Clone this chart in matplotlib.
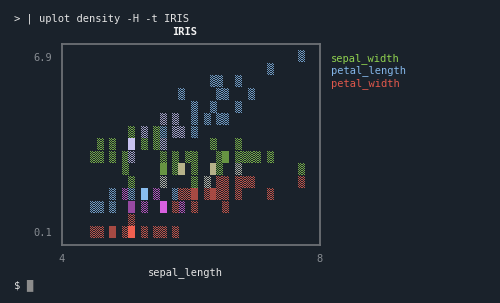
import matplotlib.pyplot as plt
import numpy as np
from matplotlib.colors import to_rgb

plt.rcParams['font.family'] = ['DejaVu Sans Mono']

BG = "#1a222b"
W, H = 500, 303

# canvas: sepal_length 4..8 in 40 columns, values 0.1..6.9 in 15 rows
x_min, x_max, n_cols = 4.0, 8.0, 40
y_top, y_bot, n_rows = 6.9, 0.1, 15
x_tick_labels = ["4", "8"]
y_tick_vals = [6.9, 0.1]
y_tick_labels = ["6.9", "0.1"]

series_names = ["sepal_width", "petal_length", "petal_width"]
series_colors = ["#8fd14f", "#84b6e8", "#e0584c"]

# cells: sepal_length bin, value, density level (1 light, 2 dense, 3 full)
sw_x = [5.5, 5.7,
        5.0, 5.2, 5.4, 5.7, 5.8,
        4.5, 4.7, 5.0, 5.2, 5.4, 5.5, 6.3, 6.7,
        4.4, 4.5, 4.7, 4.9, 5.0, 5.5, 5.7, 5.9, 6.0, 6.4, 6.5, 6.7, 6.8, 6.9, 7.0, 7.2,
        4.9, 5.5, 5.7, 5.8, 6.0, 6.3, 6.4, 6.7, 7.7,
        5.0, 5.5, 6.0, 6.2]
sw_y = [4.47, 4.47,
        3.99, 3.99, 3.99, 3.99, 3.99,
        3.5, 3.5, 3.5, 3.5, 3.5, 3.5, 3.5, 3.5,
        3.01, 3.01, 3.01, 3.01, 3.01, 3.01, 3.01, 3.01, 3.01, 3.01, 3.01, 3.01, 3.01, 3.01, 3.01, 3.01,
        2.53, 2.53, 2.53, 2.53, 2.53, 2.53, 2.53, 2.53, 2.53,
        2.04, 2.04, 2.04, 2.04]
sw_lvl = [1, 1,
          1, 1, 1, 1, 1,
          1, 1, 3, 1, 1, 1, 1, 1,
          1, 1, 1, 1, 1, 1, 1, 1, 1, 1, 2, 1, 1, 1, 1, 1,
          1, 2, 1, 1, 1, 1, 1, 1, 1,
          1, 1, 1, 1]

pl_x = [7.7, 7.2, 6.3, 6.4, 6.7, 5.8, 6.4, 6.5, 6.9, 6.0, 6.3, 6.7,
        5.5, 5.7, 6.0, 6.2, 6.4, 6.5,
        5.2, 5.5, 5.7, 5.8, 6.0,
        5.0, 5.5, 5.0, 6.7, 5.5, 6.2,
        4.7, 4.9, 5.0, 5.2, 5.4, 5.7,
        4.4, 4.5, 4.7, 5.0, 5.2, 5.5, 5.8]
pl_y = [6.9, 6.41, 5.93, 5.93, 5.93, 5.44, 5.44, 5.44, 5.44, 4.96, 4.96, 4.96,
        4.47, 4.47, 4.47, 4.47, 4.47, 4.47,
        3.99, 3.99, 3.99, 3.99, 3.99,
        3.5, 3.5, 3.01, 2.53, 2.04, 2.04,
        1.56, 1.56, 1.56, 1.56, 1.56, 1.56,
        1.07, 1.07, 1.07, 1.07, 1.07, 1.07, 1.07]
pl_lvl = [1] * 32 + [3] + [1] * 9

pw_x = [5.8, 6.3, 6.7,
        5.5, 6.2, 6.4, 6.5, 6.7, 6.8, 6.9, 7.7,
        4.9, 5.4, 5.8, 5.9, 6.0, 6.2, 6.3, 6.4, 6.5, 6.7, 7.2,
        5.0, 5.2, 5.5, 5.7, 5.8, 6.0, 6.5,
        5.0,
        4.4, 4.5, 4.7, 4.9, 5.0, 5.2, 5.4, 5.5, 5.7]
pw_y = [2.53, 2.53, 2.53,
        2.04, 2.04, 2.04, 2.04, 2.04, 2.04, 2.04, 2.04,
        1.56, 1.56, 1.56, 1.56, 1.56, 1.56, 1.56, 1.56, 1.56, 1.56, 1.56,
        1.07, 1.07, 1.07, 1.07, 1.07, 1.07, 1.07,
        0.59,
        0.1, 0.1, 0.1, 0.1, 0.1, 0.1, 0.1, 0.1, 0.1]
pw_lvl = [3, 3, 1,
          1, 1, 1, 1, 1, 1, 1, 1,
          1, 1, 1, 1, 2, 1, 2, 1, 1, 1, 1,
          2, 1, 3, 1, 1, 1, 1,
          1,
          1, 1, 2, 1, 3, 1, 1, 1, 1]

# colours of overlapping series (bit 1 = sepal_width, 2 = petal_length, 4 = petal_width)
mix_colors = {1: "#8fd14f", 2: "#88bcee", 4: "#f06050", 3: "#c8c2f0",
              5: "#b6b28a", 6: "#d860e0", 7: "#d8d8c8"}
level_factor = {1: 0.76, 2: 0.66, 3: 1.0}

bw = (x_max - x_min) / n_cols
dy = (y_top - y_bot) / (n_rows - 1)
gh = 0.46 * dy  # glyph half height, a bit less than a row

cells = {}
for bit, xs, ys, lv in [(1, sw_x, sw_y, sw_lvl), (2, pl_x, pl_y, pl_lvl), (4, pw_x, pw_y, pw_lvl)]:
    for x, y, l in zip(xs, ys, lv):
        key = (round(x, 2), round(y, 2))
        m, ol = cells.get(key, (0, 0))
        cells[key] = (m | bit, max(ol, l))

fig = plt.figure(figsize=(W / 100, H / 100), dpi=100)
fig.patch.set_facecolor(BG)
ax = fig.add_axes([62 / W, 1 - 245 / H, 258 / W, 201 / H])
ax.set_facecolor(BG)

bg = np.array(to_rgb(BG))
checker = (np.indices((12, 6)).sum(axis=0) % 2 == 0)
for (x, y), (m, l) in cells.items():
    c = np.array(to_rgb(mix_colors[m]))
    c = level_factor[l] * c + (1 - level_factor[l]) * bg
    img = np.empty((12, 6, 3))
    img[:] = c
    if l == 1:
        img[~checker] = bg
    ax.imshow(img, extent=[x, x + bw, y - gh, y + gh],
              interpolation='nearest', aspect='auto', zorder=2)

xlim = (x_min - bw / 2, x_max + bw / 2)
ax.set_xlim(*xlim)
ax.set_ylim(y_bot - dy, y_top + dy)
ax.set_xticks(list(xlim), labels=x_tick_labels)
ax.set_yticks(y_tick_vals, labels=y_tick_labels)
ax.tick_params(length=0, colors="#878c92", labelsize=7.5)
ax.tick_params(axis='x', pad=6.5)
ax.tick_params(axis='y', pad=7.2)
for s in ax.spines.values():
    s.set_color("#6c7075")
    s.set_linewidth(1.3)


def ftext(x, y, s, **kw):
    fig.text(x / W, 1 - y / H, s, va='baseline', fontsize=7.5, **kw)


ftext(14, 21.7, "> | uplot density -H -t IRIS", color="#e4e4e4")
ftext(185, 34.7, "IRIS", color="#f2f2f2", ha='center', fontweight='bold')
ftext(185, 275.5, "sepal_length", color="#e4e4e4", ha='center')
for i, (name, col) in enumerate(zip(series_names, series_colors)):
    ftext(331, 61 + 12.57 * i, name, color=col)
ftext(14, 288, "$", color="#e4e4e4")
ftext(26, 288, "\u2588", color="#8c8c8c")

fig.savefig("out.png", dpi=100, facecolor=BG)
